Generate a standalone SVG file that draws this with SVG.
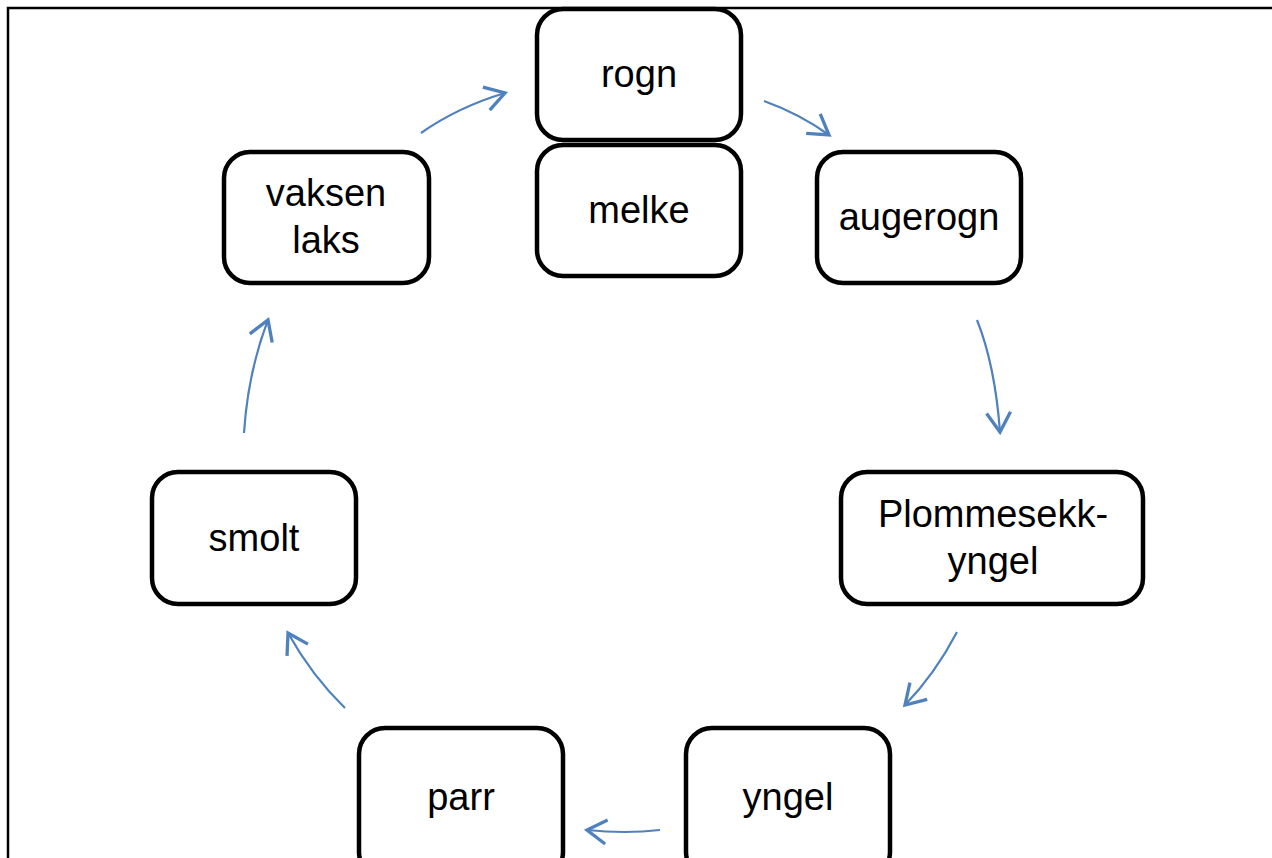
<svg xmlns="http://www.w3.org/2000/svg" width="1272" height="858" viewBox="0 0 1272 858">
<defs>
<style>
.node rect{fill:#fff;stroke:#000;stroke-width:4.5}
.node text{font-family:"Liberation Sans",Arial,sans-serif;font-size:38px;fill:#000;text-anchor:middle}
.conn path{fill:none;stroke:#4F81BD;stroke-width:2.2;marker-end:url(#ah)}
</style>
<marker id="ah" markerUnits="userSpaceOnUse" markerWidth="30" markerHeight="30" viewBox="-16 -10 20 20" refX="0" refY="0" orient="auto">
<path d="M-13,-8 L0,0 L-13,8" fill="none" stroke="#4F81BD" stroke-width="2.2"/>
</marker>
</defs>
<rect x="0" y="0" width="1272" height="858" fill="#fff"/>
<rect x="8" y="8" width="1280" height="870" fill="none" stroke="#000" stroke-width="2.5"/>
<g class="conn">
<path d="M421,133 Q458,107 505,93"/>
<path d="M764,101 Q800,114 829,135"/>
<path d="M977,320 Q995,365 1000,432"/>
<path d="M957,632 Q935,674 905,705"/>
<path d="M660,830 Q625,834 587,830"/>
<path d="M345,708 Q312,676 288,633"/>
<path d="M244,433 Q248,372 268,320"/>
</g>
<g id="rogn" class="node"><rect x="537" y="9" width="204" height="131" rx="26"/><text x="639" y="87">rogn</text></g>
<g id="melke" class="node"><rect x="537" y="145" width="204" height="131" rx="26"/><text x="639" y="223">melke</text></g>
<g id="augerogn" class="node"><rect x="817" y="152" width="204" height="131" rx="26"/><text x="919" y="230">augerogn</text></g>
<g id="plommesekkyngel" class="node"><rect x="841" y="472" width="302" height="132" rx="26"/><text x="993" y="527">Plommesekk-</text><text x="993" y="574">yngel</text></g>
<g id="yngel" class="node"><rect x="686" y="728" width="204" height="150" rx="26"/><text x="788" y="810">yngel</text></g>
<g id="parr" class="node"><rect x="359" y="728" width="204" height="150" rx="26"/><text x="461" y="810">parr</text></g>
<g id="smolt" class="node"><rect x="152" y="472" width="204" height="132" rx="26"/><text x="254" y="551">smolt</text></g>
<g id="vaksenlaks" class="node"><rect x="224" y="152" width="205" height="131" rx="26"/><text x="326" y="206">vaksen</text><text x="326" y="253">laks</text></g>
</svg>
